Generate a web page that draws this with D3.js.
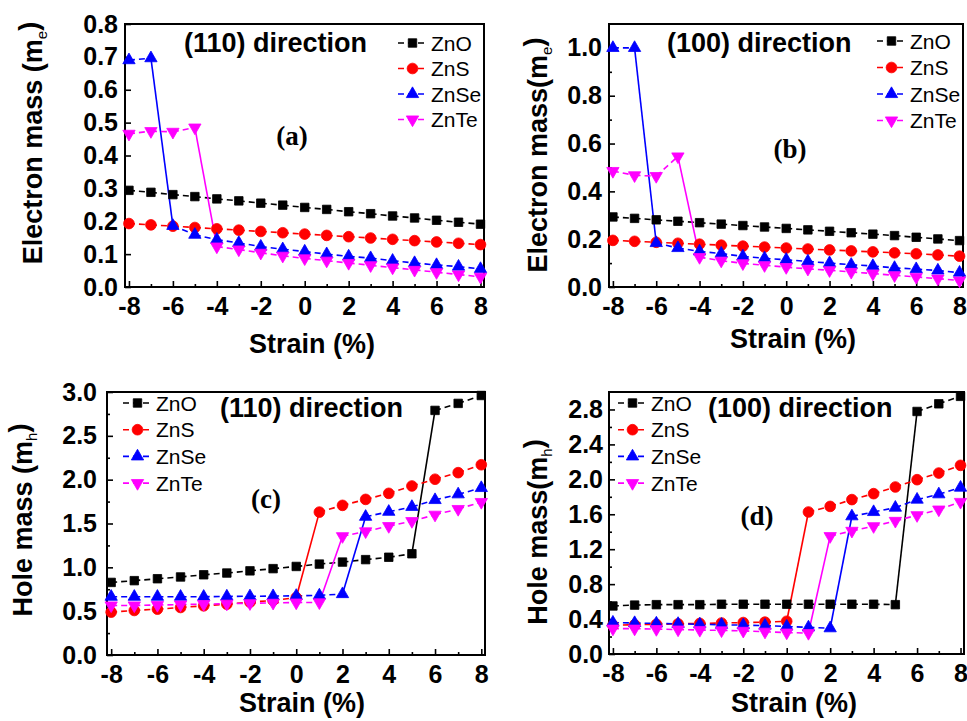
<!DOCTYPE html>
<html>
<head>
<meta charset="utf-8">
<script src="https://cdn.jsdelivr.net/npm/d3@7"></script>
<style>
  body { margin: 0; background: #fff; }
  svg { display: block; }
  text { font-family: "Liberation Sans", Arial, sans-serif; }
</style>
</head>
<body>
<svg id="fig" width="967" height="721"></svg>
<script>
// Strain values (%) shared by every panel
const strain = [-8, -7, -6, -5, -4, -3, -2, -1, 0, 1, 2, 3, 4, 5, 6, 7, 8];
const seriesNames = ["ZnO", "ZnS", "ZnSe", "ZnTe"];
const seriesColors = ["#000000", "#ff0000", "#0000ff", "#ff00ff"];
const seriesSymbols = ["square", "circle", "up", "down"];

// Electron effective mass, (110) direction
const e110ZnO  = [0.294, 0.288, 0.281, 0.275, 0.268, 0.262, 0.255, 0.249, 0.242, 0.236, 0.229, 0.223, 0.216, 0.210, 0.203, 0.197, 0.191];
const e110ZnS  = [0.193, 0.189, 0.185, 0.181, 0.177, 0.173, 0.169, 0.165, 0.161, 0.157, 0.153, 0.149, 0.145, 0.141, 0.137, 0.133, 0.129];
const e110ZnSe = [0.690, 0.696, 0.186, 0.159, 0.144, 0.134, 0.123, 0.115, 0.108, 0.100, 0.093, 0.088, 0.080, 0.073, 0.067, 0.062, 0.055];
const e110ZnTe = [0.466, 0.474, 0.472, 0.485, 0.123, 0.114, 0.104, 0.095, 0.087, 0.080, 0.073, 0.066, 0.059, 0.052, 0.045, 0.038, 0.031];

// Electron effective mass, (100) direction
const e100ZnO  = [0.293, 0.287, 0.281, 0.275, 0.269, 0.263, 0.257, 0.251, 0.245, 0.239, 0.233, 0.227, 0.221, 0.215, 0.208, 0.201, 0.194];
const e100ZnS  = [0.195, 0.191, 0.187, 0.183, 0.179, 0.175, 0.171, 0.167, 0.163, 0.159, 0.155, 0.151, 0.147, 0.143, 0.139, 0.134, 0.129];
const e100ZnSe = [1.000, 1.000, 0.184, 0.163, 0.149, 0.140, 0.128, 0.120, 0.114, 0.107, 0.100, 0.093, 0.088, 0.080, 0.075, 0.069, 0.060];
const e100ZnTe = [0.485, 0.467, 0.464, 0.546, 0.125, 0.110, 0.099, 0.091, 0.083, 0.076, 0.070, 0.063, 0.056, 0.049, 0.042, 0.035, 0.027];

// Hole effective mass, (110) direction
const h110ZnO  = [0.828, 0.848, 0.870, 0.890, 0.915, 0.935, 0.960, 0.985, 1.010, 1.037, 1.060, 1.088, 1.115, 1.155, 2.790, 2.870, 2.960];
const h110ZnS  = [0.489, 0.508, 0.523, 0.542, 0.561, 0.580, 0.603, 0.622, 0.655, 1.630, 1.707, 1.775, 1.844, 1.928, 2.005, 2.080, 2.170];
const h110ZnSe = [0.665, 0.665, 0.665, 0.665, 0.665, 0.668, 0.670, 0.672, 0.675, 0.680, 0.695, 1.577, 1.634, 1.690, 1.768, 1.833, 1.905];
const h110ZnTe = [0.565, 0.565, 0.570, 0.575, 0.580, 0.585, 0.590, 0.595, 0.598, 0.600, 1.355, 1.410, 1.470, 1.527, 1.600, 1.665, 1.745];

// Hole effective mass, (100) direction
const h100ZnO  = [0.550, 0.560, 0.565, 0.565, 0.565, 0.570, 0.570, 0.570, 0.570, 0.570, 0.570, 0.570, 0.570, 0.565, 2.777, 2.865, 2.950];
const h100ZnS  = [0.330, 0.335, 0.340, 0.345, 0.350, 0.355, 0.360, 0.365, 0.375, 1.626, 1.690, 1.768, 1.836, 1.912, 1.996, 2.072, 2.160];
const h100ZnSe = [0.360, 0.355, 0.350, 0.345, 0.340, 0.335, 0.330, 0.325, 0.315, 0.305, 0.295, 1.577, 1.626, 1.676, 1.768, 1.829, 1.905];
const h100ZnTe = [0.290, 0.290, 0.285, 0.280, 0.275, 0.270, 0.265, 0.255, 0.245, 0.240, 1.349, 1.410, 1.463, 1.524, 1.589, 1.654, 1.741];

// Tick values
const xMajorTicks = [-8, -6, -4, -2, 0, 2, 4, 6, 8];
const xMinorTicks = [-7, -5, -3, -1, 1, 3, 5, 7];
const yTicksA = [0.0, 0.1, 0.2, 0.3, 0.4, 0.5, 0.6, 0.7, 0.8];
const yTicksB = [0.0, 0.2, 0.4, 0.6, 0.8, 1.0];
const yMinorB = [0.1, 0.3, 0.5, 0.7, 0.9];
const yTicksC = [0.0, 0.5, 1.0, 1.5, 2.0, 2.5, 3.0];
const yMinorC = [0.25, 0.75, 1.25, 1.75, 2.25, 2.75];
const yTicksD = [0.0, 0.4, 0.8, 1.2, 1.6, 2.0, 2.4, 2.8];
const yMinorD = [0.2, 0.6, 1.0, 1.4, 1.8, 2.2, 2.6];

const panels = [
  { box: [125, 484, 24, 287], yMax: 0.8, yTicks: yTicksA, yMinor: [],
    series: [e110ZnO, e110ZnS, e110ZnSe, e110ZnTe],
    yLabel: ["Electron mass (m", "e", ")"], yLabelPos: [42, 143],
    title: "(110) direction", titlePos: [184, 52], tag: "(a)", tagPos: [292, 145],
    legendPos: [398, 43, 25.5], labelPad: 7, xTitlePos: [312, 353] },
  { box: [609, 963, 24, 287], yMax: 1.1, yTicks: yTicksB, yMinor: yMinorB,
    series: [e100ZnO, e100ZnS, e100ZnSe, e100ZnTe],
    yLabel: ["Electron mass(m", "e", ")"], yLabelPos: [547, 155],
    title: "(100) direction", titlePos: [667, 52], tag: "(b)", tagPos: [790, 158],
    legendPos: [877, 41, 26.5], labelPad: 7, xTitlePos: [793, 348] },
  { box: [107, 485, 392, 655], yMax: 3.0, yTicks: yTicksC, yMinor: yMinorC,
    series: [h110ZnO, h110ZnS, h110ZnSe, h110ZnTe],
    yLabel: ["Hole mass (m", "h", ")"], yLabelPos: [32, 520],
    title: "(110) direction", titlePos: [220, 417], tag: "(c)", tagPos: [266, 508],
    legendPos: [123, 403, 26.7], labelPad: 10, xTitlePos: [302, 712] },
  { box: [609, 964, 392, 654], yMax: 3.0, yTicks: yTicksD, yMinor: yMinorD,
    series: [h100ZnO, h100ZnS, h100ZnSe, h100ZnTe],
    yLabel: ["Hole mass(m", "h", ")"], yLabelPos: [547, 532],
    title: "(100) direction", titlePos: [708, 417], tag: "(d)", tagPos: [757, 525],
    legendPos: [618, 403, 26.7], labelPad: 6, xTitlePos: [794, 712] }
];

const svg = d3.select("#fig");
// Plain hyphen for negative tick labels
const fmtInt = d => String(d);
const fmtOne = d => d.toFixed(1);

function symbolPath(kind) {
  switch (kind) {
    case "square": return d3.symbol(d3.symbolSquare, 72)();
    case "circle": return d3.symbol(d3.symbolCircle, 90)();
    default: return d3.symbol(d3.symbolTriangle, 66)();
  }
}

function drawMarker(g, kind, color, x, y) {
  g.append("path")
    .attr("d", symbolPath(kind))
    .attr("transform", `translate(${x},${y})` + (kind === "down" ? " rotate(180)" : ""))
    .attr("fill", color)
    .attr("stroke", color)
    .attr("stroke-width", 0.8);
}

panels.forEach(p => {
  const [x0, x1, y0, y1] = p.box;
  const x = d3.scaleLinear().domain([-8.18, 8.16]).range([x0, x1]);
  const y = d3.scaleLinear().domain([0, p.yMax]).range([y1, y0]);
  const g = svg.append("g");

  // Bottom axis: inward major and minor ticks
  g.append("g").attr("transform", `translate(0,${y1})`)
    .call(d3.axisBottom(x).tickValues(xMajorTicks).tickSize(-6).tickPadding(10).tickFormat(fmtInt));
  g.append("g").attr("transform", `translate(0,${y1})`)
    .call(d3.axisBottom(x).tickValues(xMinorTicks).tickSize(-3).tickFormat(""));

  // Left axis
  g.append("g").attr("transform", `translate(${x0},0)`)
    .call(d3.axisLeft(y).tickValues(p.yTicks).tickSize(-6).tickPadding(p.labelPad).tickFormat(fmtOne));
  if (p.yMinor.length) {
    g.append("g").attr("transform", `translate(${x0},0)`)
      .call(d3.axisLeft(y).tickValues(p.yMinor).tickSize(-3).tickFormat(""));
  }
  g.selectAll(".domain").remove();
  g.selectAll(".tick line").attr("stroke", "#000").attr("stroke-width", 1.6);
  g.selectAll(".tick text")
    .style("font-family", "'Liberation Sans', Arial, sans-serif")
    .style("font-size", "25px").style("font-weight", "bold").attr("fill", "#000");

  // Frame
  g.append("rect").attr("x", x0).attr("y", y0).attr("width", x1 - x0).attr("height", y1 - y0)
    .attr("fill", "none").attr("stroke", "#000").attr("stroke-width", 2);

  // Series: dashed between points, solid across the abrupt jump
  const threshold = p.yMax * 0.1;
  p.series.forEach((vals, si) => {
    const color = seriesColors[si];
    for (let i = 0; i < strain.length - 1; i++) {
      const jump = Math.abs(vals[i + 1] - vals[i]) > threshold;
      g.append("line")
        .attr("x1", x(strain[i])).attr("y1", y(vals[i]))
        .attr("x2", x(strain[i + 1])).attr("y2", y(vals[i + 1]))
        .attr("stroke", color).attr("stroke-width", 1.6)
        .attr("stroke-dasharray", jump ? null : "6,4");
    }
  });
  p.series.forEach((vals, si) => {
    vals.forEach((v, i) => drawMarker(g, seriesSymbols[si], seriesColors[si], x(strain[i]), y(v)));
  });

  // Legend
  const [lx, ly, ldy] = p.legendPos;
  seriesNames.forEach((name, si) => {
    const yy = ly + si * ldy;
    g.append("line").attr("x1", lx).attr("x2", lx + 29).attr("y1", yy).attr("y2", yy)
      .attr("stroke", seriesColors[si]).attr("stroke-width", 1.6).attr("stroke-dasharray", "6,4");
    drawMarker(g, seriesSymbols[si], seriesColors[si], lx + 14.5, yy);
    g.append("text").attr("x", lx + 33).attr("y", yy + 7.5)
      .style("font-size", "21px").attr("fill", "#000").text(name);
  });

  // Direction title and panel tag
  g.append("text").attr("x", p.titlePos[0]).attr("y", p.titlePos[1])
    .style("font-size", "27px").style("font-weight", "bold").text(p.title);
  g.append("text").attr("x", p.tagPos[0]).attr("y", p.tagPos[1]).attr("text-anchor", "middle")
    .style("font-family", "'Liberation Serif', 'Times New Roman', serif")
    .style("font-size", "27px").style("font-weight", "bold").text(p.tag);

  // Axis titles
  g.append("text").attr("x", p.xTitlePos[0]).attr("y", p.xTitlePos[1]).attr("text-anchor", "middle")
    .style("font-size", "27px").style("font-weight", "bold").text("Strain (%)");

  const yl = g.append("text")
    .attr("transform", `translate(${p.yLabelPos[0]},${p.yLabelPos[1]}) rotate(-90)`)
    .attr("text-anchor", "middle")
    .style("font-size", "27px").style("font-weight", "bold");
  yl.append("tspan").text(p.yLabel[0]);
  yl.append("tspan").attr("dy", "0.3em").style("font-size", "15px").style("font-weight", "normal").text(p.yLabel[1]);
  yl.append("tspan").attr("dy", "-0.3em").text(p.yLabel[2]);
});
</script>
</body>
</html>
